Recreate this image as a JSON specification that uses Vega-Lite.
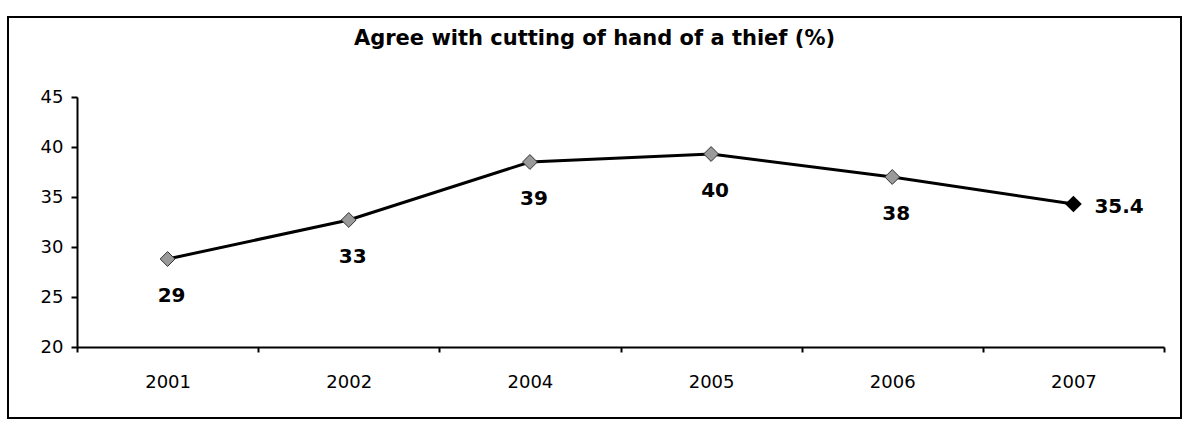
{
  "$schema": "https://vega.github.io/schema/vega-lite/v6.json",
  "width": 1173,
  "height": 401,
  "autosize": "none",
  "padding": {"left": 8, "top": 17, "right": 3, "bottom": 9},
  "background": "white",
  "title": {
    "text": "Agree with cutting of hand of a thief (%)",
    "font": "DejaVu Sans",
    "fontSize": 21,
    "fontWeight": "bold",
    "color": "black",
    "anchor": "middle",
    "baseline": "alphabetic",
    "offset": -49
  },
  "data": {
    "values": [
      {"year": "2001", "value": 28.8, "label": "29"},
      {"year": "2002", "value": 32.7, "label": "33"},
      {"year": "2004", "value": 38.5, "label": "39"},
      {"year": "2005", "value": 39.3, "label": "40"},
      {"year": "2006", "value": 37.0, "label": "38"},
      {"year": "2007", "value": 34.3, "label": "35.4"}
    ]
  },
  "encoding": {
    "x": {
      "field": "year",
      "type": "ordinal",
      "sort": null,
      "scale": {"type": "band", "paddingInner": 0, "paddingOuter": 0, "range": [69, 1156]},
      "axis": {
        "title": null,
        "labelAngle": 0,
        "tickBand": "extent",
        "offset": -71,
        "domainColor": "black",
        "domainWidth": 2,
        "tickColor": "black",
        "tickWidth": 2,
        "tickSize": 5,
        "labelPadding": 21,
        "labelFont": "DejaVu Sans",
        "labelFontSize": 18,
        "labelColor": "black",
        "grid": false
      }
    },
    "y": {
      "field": "value",
      "type": "quantitative",
      "scale": {"domain": [20, 45], "range": [330, 80], "nice": false, "zero": false},
      "axis": {
        "title": null,
        "values": [20, 25, 30, 35, 40, 45],
        "offset": -69,
        "domainColor": "black",
        "domainWidth": 2,
        "tickColor": "black",
        "tickWidth": 2,
        "tickSize": 6,
        "labelPadding": 8,
        "labelFont": "DejaVu Sans",
        "labelFontSize": 18,
        "labelColor": "black",
        "grid": false
      }
    }
  },
  "layer": [
    {"mark": {"type": "line", "color": "black", "strokeWidth": 3}},
    {
      "transform": [{"filter": "datum.year != '2007'"}],
      "mark": {"type": "point", "shape": "diamond", "filled": true, "size": 220, "fill": "#9a9a9a", "stroke": "#333333", "strokeWidth": 1, "opacity": 1}
    },
    {
      "transform": [{"filter": "datum.year == '2007'"}],
      "mark": {"type": "point", "shape": "diamond", "filled": true, "size": 280, "fill": "black", "opacity": 1}
    },
    {
      "transform": [{"filter": "datum.year != '2007'"}],
      "mark": {"type": "text", "font": "DejaVu Sans", "fontSize": 20, "fontWeight": "bold", "color": "black", "dy": 37, "dx": 4, "baseline": "middle", "align": "center"},
      "encoding": {"text": {"field": "label"}}
    },
    {
      "transform": [{"filter": "datum.year == '2007'"}],
      "mark": {"type": "text", "font": "DejaVu Sans", "fontSize": 20, "fontWeight": "bold", "color": "black", "dx": 21, "dy": 3, "baseline": "middle", "align": "left"},
      "encoding": {"text": {"field": "label"}}
    }
  ],
  "config": {
    "view": {"stroke": "black", "strokeWidth": 2}
  }
}
